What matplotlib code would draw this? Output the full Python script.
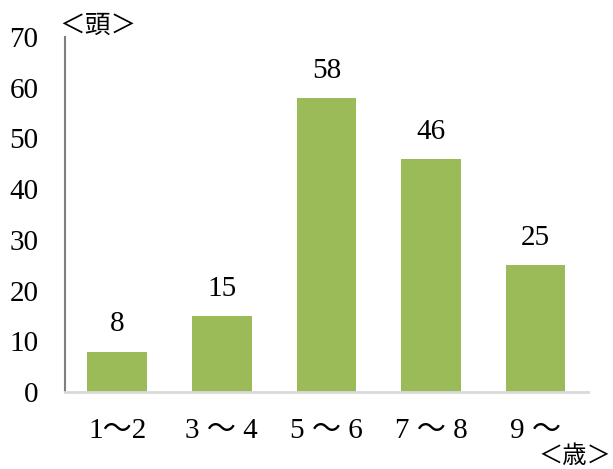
import matplotlib.pyplot as plt

plt.rcParams["font.family"] = ["Liberation Serif", "Noto Sans CJK JP"]

age_groups = ["1～2", "3 ～ 4", "5 ～ 6", "7 ～ 8", "9 ～"]
head_counts = [8, 15, 58, 46, 25]
y_ticks = [0, 10, 20, 30, 40, 50, 60, 70]

fig = plt.figure(figsize=(6.13, 4.69), dpi=100)
ax = fig.add_axes([0.106, 0.164, 0.853, 0.757])

x = range(len(age_groups))
bars = ax.bar(x, head_counts, width=0.57, color="#9BBB59")

for rect, v in zip(bars, head_counts):
    ax.text(rect.get_x() + rect.get_width() / 2, v + 2.8, str(v),
            ha="center", va="bottom", fontsize=21)

ax.set_xlim(-0.5, len(age_groups) - 0.5)
ax.set_ylim(0, 70)
ax.set_yticks(y_ticks)
ax.set_xticks(list(x))
ax.set_xticklabels(age_groups)
ax.tick_params(axis="y", length=0, pad=19, labelsize=21)
ax.tick_params(axis="x", length=0, pad=19, labelsize=21)

ax.spines["top"].set_visible(False)
ax.spines["right"].set_visible(False)
ax.spines["left"].set_color("#7f7f7f")
ax.spines["left"].set_linewidth(1.5)
ax.spines["bottom"].set_color("#d9d9d9")
ax.spines["bottom"].set_linewidth(2)

# unit labels
fig.text(0.097, 0.942, "＜頭＞", fontsize=18.5, ha="left", va="center")
fig.text(0.997, 0.002, "＜歳＞", fontsize=17.5, ha="right", va="bottom")

fig.savefig("out.png", dpi=100)
